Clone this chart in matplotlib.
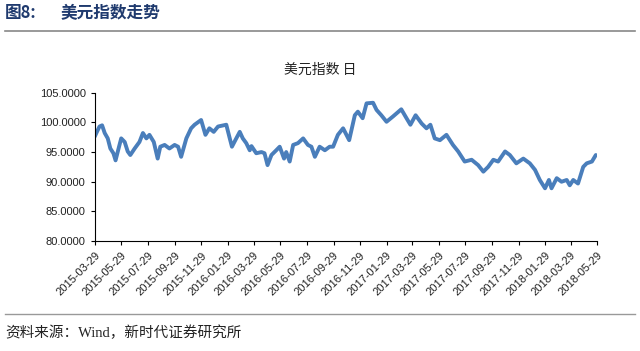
import matplotlib
matplotlib.use("Agg")
import matplotlib.pyplot as plt
import matplotlib.ticker as mticker
import pandas as pd

plt.rcParams['font.family'] = ['Noto Sans CJK SC', 'DejaVu Sans']

# 美元指数
dates = [
    "2015-03-29", "2015-04-03", "2015-04-09", "2015-04-15", "2015-04-21", "2015-04-28",
    "2015-05-04", "2015-05-11", "2015-05-16", "2015-05-24", "2015-05-29", "2015-06-06",
    "2015-06-13", "2015-06-19", "2015-06-29", "2015-07-10", "2015-07-18", "2015-07-26",
    "2015-08-02", "2015-08-12", "2015-08-21", "2015-08-27", "2015-09-06", "2015-09-17",
    "2015-09-29", "2015-10-07", "2015-10-14", "2015-10-26", "2015-11-06", "2015-11-14",
    "2015-11-29", "2015-12-09", "2015-12-18", "2015-12-28", "2016-01-07", "2016-01-26",
    "2016-02-03", "2016-02-08", "2016-02-18", "2016-02-26", "2016-03-04", "2016-03-12",
    "2016-03-20", "2016-03-24", "2016-04-04", "2016-04-16", "2016-04-23", "2016-04-30",
    "2016-05-09", "2016-05-20", "2016-05-28", "2016-06-07", "2016-06-12", "2016-06-20",
    "2016-06-28", "2016-07-09", "2016-07-21", "2016-08-01", "2016-08-09", "2016-08-17",
    "2016-08-28", "2016-09-09", "2016-09-20", "2016-09-28", "2016-10-09", "2016-10-21",
    "2016-11-04", "2016-11-17", "2016-11-24", "2016-12-05", "2016-12-14", "2016-12-29",
    "2017-01-06", "2017-01-17", "2017-01-29", "2017-02-13", "2017-03-04", "2017-03-16",
    "2017-03-25", "2017-04-06", "2017-04-20", "2017-05-01", "2017-05-10", "2017-05-20",
    "2017-06-01", "2017-06-16", "2017-07-01", "2017-07-13", "2017-07-28", "2017-08-13",
    "2017-08-28", "2017-09-09", "2017-09-20", "2017-10-02", "2017-10-13", "2017-10-29",
    "2017-11-09", "2017-11-24", "2017-12-10", "2017-12-25", "2018-01-06", "2018-01-17",
    "2018-01-29", "2018-02-07", "2018-02-13", "2018-02-25", "2018-03-08", "2018-03-20",
    "2018-03-27", "2018-04-04", "2018-04-15", "2018-04-27", "2018-05-05", "2018-05-17",
    "2018-05-26",
]
dxy = [
    97.6, 98.4, 99.3, 99.5, 98.2, 97.3,
    95.6, 94.8, 93.6, 95.9, 97.3, 96.7,
    95.1, 94.5, 95.6, 96.7, 98.2, 97.3,
    97.9, 96.7, 93.9, 95.9, 96.2, 95.6,
    96.2, 95.9, 94.2, 97.3, 99.0, 99.6,
    100.4, 97.9, 99.0, 98.4, 99.3, 99.6,
    97.3, 95.9, 97.3, 98.4, 97.3, 96.5,
    95.3, 96.0, 94.8, 95.0, 94.8, 92.8,
    94.5, 95.3, 95.9, 93.9, 95.0, 93.4,
    96.2, 96.5, 97.3, 96.2, 95.9, 94.2,
    95.9, 95.3, 95.9, 95.9, 97.9, 99.0,
    97.0, 101.2, 101.8, 100.7, 103.2, 103.3,
    102.1, 101.2, 100.1, 101.0, 102.2, 100.7,
    99.6, 101.2, 99.8, 99.0, 99.6, 97.3,
    97.0, 97.9, 96.2, 95.1, 93.4, 93.7,
    92.8, 91.7, 92.5, 93.7, 93.4, 95.1,
    94.5, 93.1, 93.9, 93.1, 92.0, 90.3,
    88.9, 90.3, 88.9, 90.6, 90.0, 90.3,
    89.4, 90.3, 89.7, 92.5, 93.1, 93.4,
    94.5,
]
tick_dates = [
    "2015-03-29", "2015-05-29", "2015-07-29", "2015-09-29", "2015-11-29", "2016-01-29",
    "2016-03-29", "2016-05-29", "2016-07-29", "2016-09-29", "2016-11-29", "2017-01-29",
    "2017-03-29", "2017-05-29", "2017-07-29", "2017-09-29", "2017-11-29", "2018-01-29",
    "2018-03-29", "2018-05-29",
]
y_ticks = [80, 85, 90, 95, 100, 105]

x = pd.to_datetime(dates)
xt = pd.to_datetime(tick_dates)

fig = plt.figure(figsize=(6.4, 3.51), dpi=100)
ax = fig.add_axes([0.148, 0.313, 0.785, 0.423])

ax.plot(x, dxy, color='#4a7ebb', linewidth=2.8, solid_joinstyle='round', solid_capstyle='round')

ax.set_xlim(xt[0], xt[-1])
ax.set_ylim(80, 105)
ax.set_yticks(y_ticks)
ax.yaxis.set_major_formatter(mticker.FormatStrFormatter('%.4f'))
ax.set_xticks(xt)
ax.set_xticklabels(tick_dates, rotation=45, ha='right', rotation_mode='anchor')
ax.tick_params(axis='both', labelsize=8, length=3, width=0.8, color='black', direction='out',
               labelcolor='#222222')
for lab in ax.get_xticklabels() + ax.get_yticklabels():
    lab.set_family(['Liberation Sans', 'DejaVu Sans'])
for s in ['top', 'right']:
    ax.spines[s].set_visible(False)
for s in ['left', 'bottom']:
    ax.spines[s].set_linewidth(0.8)

fig.text(0.5, 0.80, '美元指数 日', ha='center', va='center', fontsize=10, color='#222222')

# header / footer
fig.text(0.008, 0.963, '图8:', fontsize=12, fontweight='bold', color='#1f3a6e', va='center')
fig.text(0.094, 0.963, '美元指数走势', fontsize=12, fontweight='bold', color='#1f3a6e', va='center')
fig.add_artist(plt.Line2D([0.008, 0.992], [0.912, 0.912], color='#888888', linewidth=1.2))
fig.add_artist(plt.Line2D([0.008, 0.992], [0.105, 0.105], color='#999999', linewidth=1.0))
fig.text(0.008, 0.051, '资料来源：Wind，新时代证券研究所', fontsize=10.5, color='#222222', va='center',
         family=['Liberation Serif', 'Noto Sans CJK SC'])

fig.savefig('out.png', dpi=100)
